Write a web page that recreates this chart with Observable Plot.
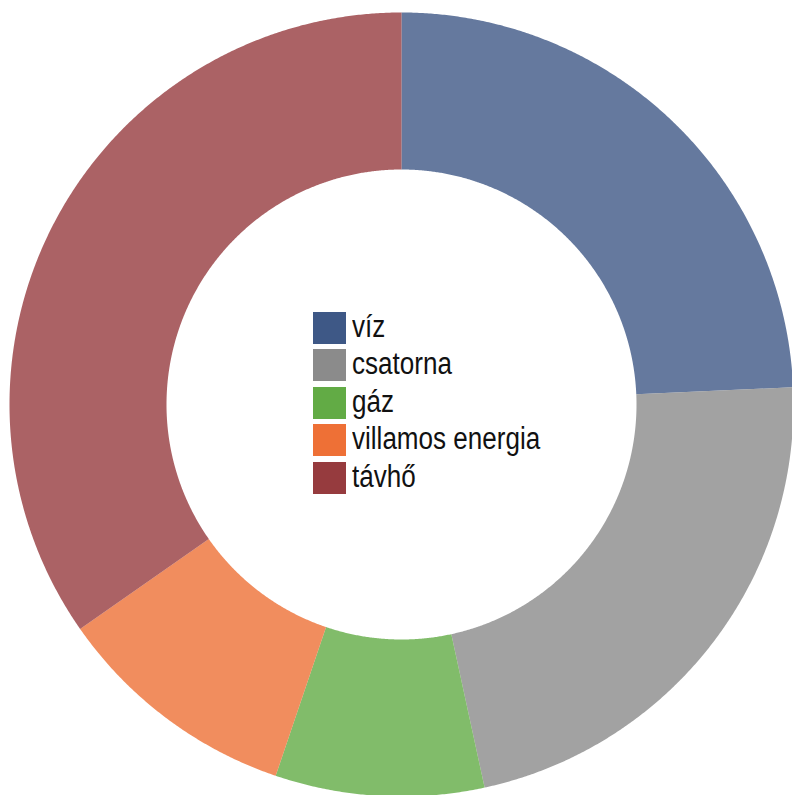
<!DOCTYPE html>
<html><head><meta charset="utf-8">
<script src="https://cdn.jsdelivr.net/npm/d3@7"></script>
<script src="https://cdn.jsdelivr.net/npm/@observablehq/plot@0.6"></script>
<style>
html,body{margin:0;padding:0;background:#fff;}
#wrap{position:relative;width:792px;height:795px;overflow:hidden;}
#legend{position:absolute;left:313px;top:309px;font-family:"Liberation Sans",Arial,sans-serif;font-size:31px;color:#111;}
.item{display:flex;align-items:center;height:37.5px;}
.sw{width:33px;height:32px;margin-right:6px;flex:none;}
.lb{line-height:32px;white-space:nowrap;display:inline-block;transform:scaleX(0.84);transform-origin:0 50%;margin-top:-2px;}
</style></head><body><div id="wrap"><div id="chart"></div><div id="legend"></div></div>
<script>
const labels = ["víz","csatorna","gáz","villamos energia","távhő"];
const values = [24.3, 22.3, 8.6, 10.1, 34.7];
const colors = ["#3e5886","#8b8b8b","#62ab45","#ee7036","#963b3e"];
const innerRatio = 235/392;

const rows = labels.map((label, i) => ({label, value: values[i]}));
const arcs = d3.pie().sort(null).value(d => d.value)(rows);

function ringPoints(a0, a1, r0, r1) {
  const n = Math.max(8, Math.ceil((a1 - a0) / 0.005));
  const pts = [];
  for (let i = 0; i <= n; i++) {
    const a = a0 + (a1 - a0) * i / n;
    pts.push([r1 * Math.sin(a), r1 * Math.cos(a)]);
  }
  for (let i = n; i >= 0; i--) {
    const a = a0 + (a1 - a0) * i / n;
    pts.push([r0 * Math.sin(a), r0 * Math.cos(a)]);
  }
  pts.push(pts[0]);
  return pts;
}

const features = arcs.map(a => ({
  type: "Feature",
  properties: {label: a.data.label},
  geometry: {type: "Polygon", coordinates: [ringPoints(a.startAngle, a.endAngle, innerRatio, 1)]}
}));

const outline = {type: "Feature", geometry: {type: "Polygon", coordinates: [ringPoints(0, 2 * Math.PI - 1e-6, 0, 1)]}};
const proj = d3.geoIdentity().reflectY(true).fitExtent([[9, 12], [793, 796]], outline);

const chart = Plot.plot({
  width: 792,
  height: 795,
  margin: 0,
  projection: proj,
  color: {domain: labels, range: colors},
  marks: [
    Plot.geo(features, {fill: d => d.properties.label, fillOpacity: 0.8})
  ]
});
document.getElementById("chart").append(chart);

const legend = document.getElementById("legend");
labels.forEach((l, i) => {
  const item = document.createElement("div");
  item.className = "item";
  const sw = document.createElement("div");
  sw.className = "sw";
  sw.style.background = colors[i];
  const lb = document.createElement("span");
  lb.className = "lb";
  lb.textContent = l;
  item.append(sw, lb);
  legend.append(item);
});
</script>
</body></html>
